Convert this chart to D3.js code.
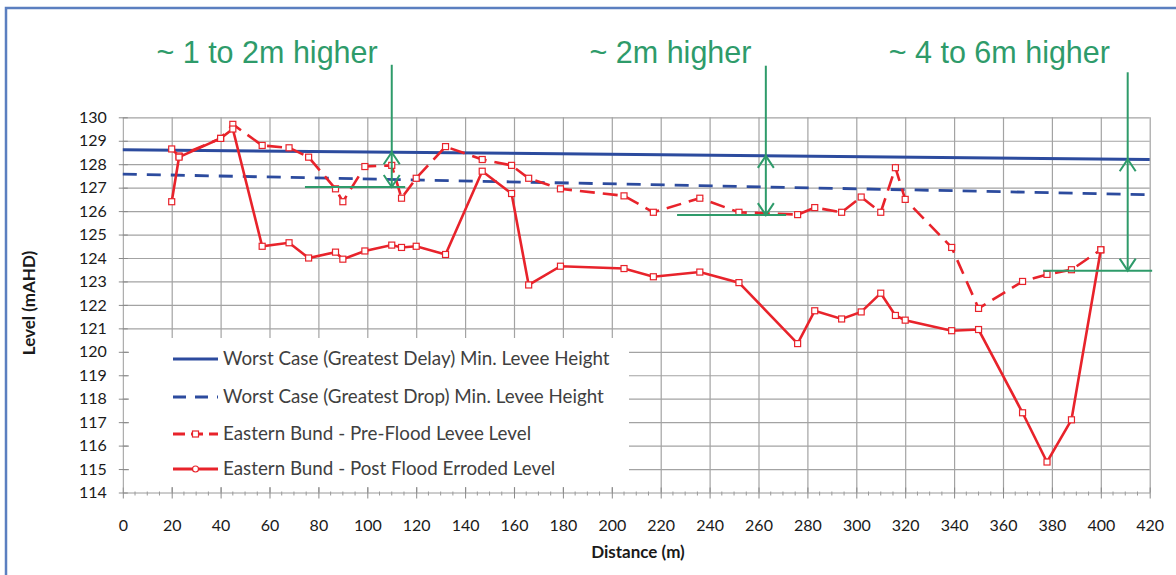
<!DOCTYPE html>
<html>
<head>
<meta charset="utf-8">
<script src="https://cdn.jsdelivr.net/npm/d3@7"></script>
<style>
  body { margin: 0; background: #fff; }
  svg { display: block; }
  .tick text { font-family: Lato, "Open Sans", sans-serif; }
</style>
</head>
<body>
<svg id="canvas" width="1176" height="575"></svg>
<script>
// distances (m) where the bund was surveyed
let distance = [20, 23, 40, 45, 57, 68, 76, 87, 90, 99, 110, 114, 120, 132, 147, 159, 166, 179, 205, 217,
                236, 252, 276, 283, 294, 302, 310, 316, 320, 339, 350, 368, 378, 388, 400]
let preFlood = [128.65, 128.35, 129.1, 129.7, 128.8, 128.7, 128.3, 126.95, 126.4, 127.9, 127.95, 126.55, 127.4, 128.75,
                128.2, 127.95, 127.4, 126.95, 126.65, 125.95, 126.55, 125.95, 125.85, 126.15, 125.95, 126.6, 125.95,
                127.85, 126.5, 124.45, 121.85, 123.0, 123.3, 123.5, 124.35]
let postFlood = [126.4, 128.3, 129.1, 129.5, 124.5, 124.65, 124.0, 124.25, 123.95, 124.3, 124.55, 124.45, 124.5, 124.15,
                 127.7, 126.75, 122.85, 123.65, 123.55, 123.2, 123.4, 122.95, 120.35, 121.75, 121.4, 121.7, 122.5,
                 121.55, 121.35, 120.9, 120.95, 117.4, 115.3, 117.1, 124.35]

// min levee height lines (start / end of chart)
let levelEnds = [0, 420]
let delayLine = [128.62, 128.2]
let dropLine = [127.58, 126.7]

let xTicks = d3.range(0, 421, 20)
let yTicks = d3.range(114, 131, 1)

let legendLabels = [
    'Worst Case (Greatest Delay) Min. Levee Height',
    'Worst Case (Greatest Drop) Min. Levee Height',
    'Eastern Bund - Pre-Flood Levee Level',
    'Eastern Bund - Post Flood Erroded Level'
]

let annLabels = ['~ 1 to 2m higher', '~ 2m higher', '~ 4 to 6m higher']
let annAt = [110, 263, 411]         // arrow distance
let annLevel = [127.03, 125.83, 123.46]
let annFrom = [74.5, 226.7, 376.4]
let annTo = [115.5, 271.3, 421]

const red = '#e8232b', blue = '#2c4b9e', green = '#2e9b6a', grid = '#a3a3a3'

let canvas = d3.select('#canvas')
canvas.append('rect').attr('width', 1176).attr('height', 575).attr('fill', '#fff')

// frame
canvas.append('path')
    .attr('d', 'M6,580 L6,8 L1180,8')
    .attr('fill', 'none').attr('stroke', '#5b7fc0').attr('stroke-width', 2.5)

let x = d3.scaleLinear().domain([0, 420]).range([122.8, 1149.7])
let y = d3.scaleLinear().domain([114, 130]).range([492.5, 117.3])

// grid
canvas.append('g')
    .attr('transform', 'translate(0,' + y(114) + ')')
    .call(d3.axisBottom(x).tickValues(xTicks.slice(1)).tickSize(-(y(114) - y(130))).tickFormat(''))
    .call(g => g.select('.domain').remove())
    .selectAll('line').attr('stroke', grid).attr('stroke-width', 1.2)

canvas.append('g')
    .attr('transform', 'translate(' + x(0) + ',0)')
    .call(d3.axisLeft(y).tickValues(yTicks.slice(1)).tickSize(-(x(420) - x(0))).tickFormat(''))
    .call(g => g.select('.domain').remove())
    .selectAll('line').attr('stroke', grid).attr('stroke-width', 1.2)

// legend background hides the grid behind it
canvas.append('rect')
    .attr('x', 129).attr('y', 338).attr('width', 500).attr('height', 149)
    .attr('fill', '#fff')

// axes
let xAxis = canvas.append('g')
    .attr('transform', 'translate(0,' + y(114) + ')')
    .call(d3.axisBottom(x).tickValues(xTicks).tickSizeInner(6).tickSizeOuter(0).tickPadding(21))
xAxis.select('.domain').attr('stroke', '#9a9a9a')
xAxis.selectAll('.tick line').attr('y1', -5).attr('stroke', '#8a8a8a')
xAxis.selectAll('.tick text').attr('font-size', 16).attr('fill', '#1a1a1a')

xAxis.selectAll('.minor')
    .data(d3.range(0, 421, 5).filter(d => d % 20 != 0))
    .enter().append('line')
    .attr('x1', d => x(d)).attr('x2', d => x(d))
    .attr('y1', -1).attr('y2', 3)
    .attr('stroke', '#9a9a9a')

let yAxis = canvas.append('g')
    .attr('transform', 'translate(' + x(0) + ',0)')
    .call(d3.axisLeft(y).tickValues(yTicks).tickSizeInner(4).tickSizeOuter(0).tickPadding(12))
yAxis.select('.domain').attr('stroke', '#9a9a9a')
yAxis.selectAll('.tick line').attr('x1', 5).attr('stroke', '#8a8a8a')
yAxis.selectAll('.tick text').attr('font-size', 16).attr('fill', '#1a1a1a')

canvas.append('text')
    .attr('x', 638).attr('y', 558)
    .attr('text-anchor', 'middle')
    .attr('font-family', 'Lato, sans-serif').attr('font-weight', 'bold').attr('font-size', 17)
    .attr('fill', '#1a1a1a')
    .text('Distance (m)')

canvas.append('text')
    .attr('transform', 'translate(35,303) rotate(-90)')
    .attr('text-anchor', 'middle')
    .attr('font-family', 'Lato, sans-serif').attr('font-weight', 'bold').attr('font-size', 17)
    .attr('fill', '#1a1a1a')
    .text('Level (mAHD)')

// lines
let line = d3.line().x(d => x(d[0])).y(d => y(d[1]))

canvas.append('path')
    .attr('d', line(d3.zip(levelEnds, delayLine)))
    .attr('fill', 'none').attr('stroke', blue).attr('stroke-width', 3)

canvas.append('path')
    .attr('d', line(d3.zip(levelEnds, dropLine)))
    .attr('fill', 'none').attr('stroke', blue).attr('stroke-width', 2.8)
    .attr('stroke-dasharray', '14,10')

canvas.append('path')
    .attr('d', line(d3.zip(distance, preFlood)))
    .attr('fill', 'none').attr('stroke', red).attr('stroke-width', 2.6)
    .attr('stroke-dasharray', '15,8')

canvas.append('path')
    .attr('d', line(d3.zip(distance, postFlood)))
    .attr('fill', 'none').attr('stroke', red).attr('stroke-width', 2.6)

let drawMarkers = (vals) => {
    canvas.append('g').selectAll('rect')
        .data(d3.zip(distance, vals))
        .enter().append('rect')
        .attr('x', d => x(d[0]) - 3).attr('y', d => y(d[1]) - 3)
        .attr('width', 6).attr('height', 6)
        .attr('fill', '#fff').attr('stroke', red).attr('stroke-width', 1.2)
}
drawMarkers(preFlood)
drawMarkers(postFlood)

// legend
let legendY = [359, 397, 434, 469]
let legend = canvas.append('g')
legendY.forEach((ly, i) => {
    let color = i < 2 ? blue : red
    let sample = legend.append('line')
        .attr('x1', 173).attr('x2', 218).attr('y1', ly).attr('y2', ly)
        .attr('stroke', color).attr('stroke-width', 2.8)
    if (i == 1) sample.attr('stroke-dasharray', '13,9')
    if (i == 2) sample.attr('stroke-dasharray', '12,6')
    if (i == 2) {
        legend.append('rect').attr('x', 192.5).attr('y', ly - 3).attr('width', 6).attr('height', 6)
            .attr('fill', '#fff').attr('stroke', red).attr('stroke-width', 1.2)
    }
    if (i == 3) {
        legend.append('circle').attr('cx', 195.5).attr('cy', ly).attr('r', 3)
            .attr('fill', '#fff').attr('stroke', red).attr('stroke-width', 1.2)
    }
    legend.append('text')
        .attr('x', 223).attr('y', ly + 6)
        .attr('font-family', 'Lato, sans-serif').attr('font-size', 18.8)
        .attr('fill', '#404040')
        .text(legendLabels[i])
})

// annotations
let annTextX = [59, 224, 358.5]
let annTop = [132.24, 132.2, 131.92]
let delayAt = d => delayLine[0] + (delayLine[1] - delayLine[0]) * d / 420
let ann = canvas.append('g').attr('stroke', green).attr('stroke-width', 2).attr('fill', 'none')
annAt.forEach((d, i) => {
    let cx = x(d), tip = y(delayAt(d)), lvl = y(annLevel[i])
    ann.append('line').attr('x1', cx).attr('x2', cx).attr('y1', y(annTop[i])).attr('y2', lvl)
    ann.append('line').attr('x1', x(annFrom[i])).attr('x2', x(annTo[i])).attr('y1', lvl).attr('y2', lvl)
    ann.append('path').attr('d', `M${cx - 8},${tip + 12} L${cx},${tip} L${cx + 8},${tip + 12}`)
    ann.append('path').attr('d', `M${cx - 8},${lvl - 12} L${cx},${lvl} L${cx + 8},${lvl - 12}`)
    canvas.append('text')
        .attr('x', x(annTextX[i])).attr('y', 63)
        .attr('text-anchor', 'middle')
        .attr('font-family', '"Liberation Sans", Arial, sans-serif').attr('font-size', 30.5)
        .attr('fill', green)
        .text(annLabels[i])
})
</script>
</body>
</html>
